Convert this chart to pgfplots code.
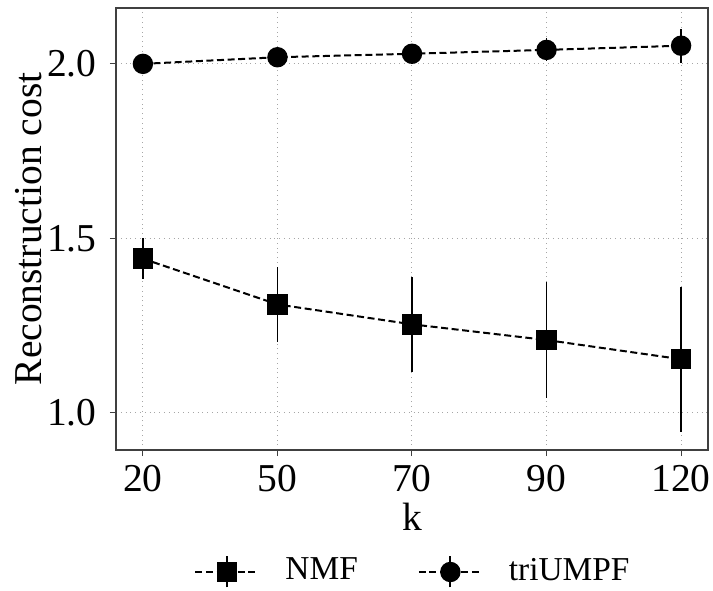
\documentclass[border=0pt]{standalone}
\usepackage{pgfplots}
\pgfplotsset{compat=1.18}
\usepackage{fontspec}
\setmainfont{Liberation Serif}
\begin{document}
\fontsize{19.75}{23}\selectfont
\begin{tikzpicture}
\useasboundingbox (-58pt,-70pt) rectangle (298.5pt,225pt);
\begin{axis}[
  at={(0pt,0pt)}, anchor=south west,
  scale only axis,
  width=296pt, height=221pt,
  xmin=-0.2, xmax=4.2,
  ymin=0.894, ymax=2.16,
  xtick={0,1,2,3,4},
  xticklabels={20,50,70,90,120},
  ytick={1.0,1.5,2.0},
  yticklabel style={/pgf/number format/fixed,/pgf/number format/fixed zerofill,/pgf/number format/precision=1},
  xticklabel style={yshift=2pt},
  /pgf/number format/assume math mode=true,
  tick align=outside,
  tick pos=left,
  major tick length=3pt,
  tick style={black!75, line width=0.5pt},
  axis line style={black!75, line width=0.6pt},
  grid=major,
  major grid style={dotted, gray!70, line width=0.5pt},
  xlabel={k},
  ylabel={Reconstruction cost},
  xlabel style={yshift=8pt},
  ylabel style={yshift=-11pt},
  legend columns=2,
  legend style={draw=none, fill=none, at={(0.5,-0.276)}, anchor=center,
    font=\fontsize{16.7}{20}\selectfont,
    nodes={inner xsep=0pt},
    /tikz/every odd column/.append style={column sep=13pt},
    /tikz/every even column/.append style={column sep=30pt}},
  legend cell align=left,
  legend image code/.code={
    \draw[#1] (0pt,0pt) -- (31.5pt,0pt);
    \draw[solid, line width=0.9pt] (15.75pt,-7.75pt) -- (15.75pt,7.75pt);
    \draw[#1, only marks] plot coordinates {(15.75pt,0pt)};
  },
]
\addplot[black, line width=1pt, dash pattern=on 3.5pt off 1.8pt,
  mark=square*, mark size=4.6pt, mark options={solid, fill=black},
  error bars/.cd, y dir=both, y explicit, error mark=none,
  error bar style={solid, line width=0.9pt}]
  coordinates {
  (0,1.442) +- (0,0.058)
  (1,1.311) +- (0,0.108)
  (2,1.254) +- (0,0.136)
  (3,1.209) +- (0,0.165)
  (4,1.154) +- (0,0.208)
};
\addlegendentry{NMF}
\addplot[black, line width=1pt, dash pattern=on 3.5pt off 1.8pt,
  mark=*, mark size=4.6pt, mark options={solid, fill=black},
  error bars/.cd, y dir=both, y explicit, error mark=none,
  error bar style={solid, line width=0.9pt}]
  coordinates {
  (0,2.000) +- (0,0.008)
  (1,2.019) +- (0,0.012)
  (2,2.029) +- (0,0.015)
  (3,2.040) +- (0,0.033)
  (4,2.052) +- (0,0.049)
};
\addlegendentry{triUMPF}
\end{axis}
\end{tikzpicture}
\end{document}
